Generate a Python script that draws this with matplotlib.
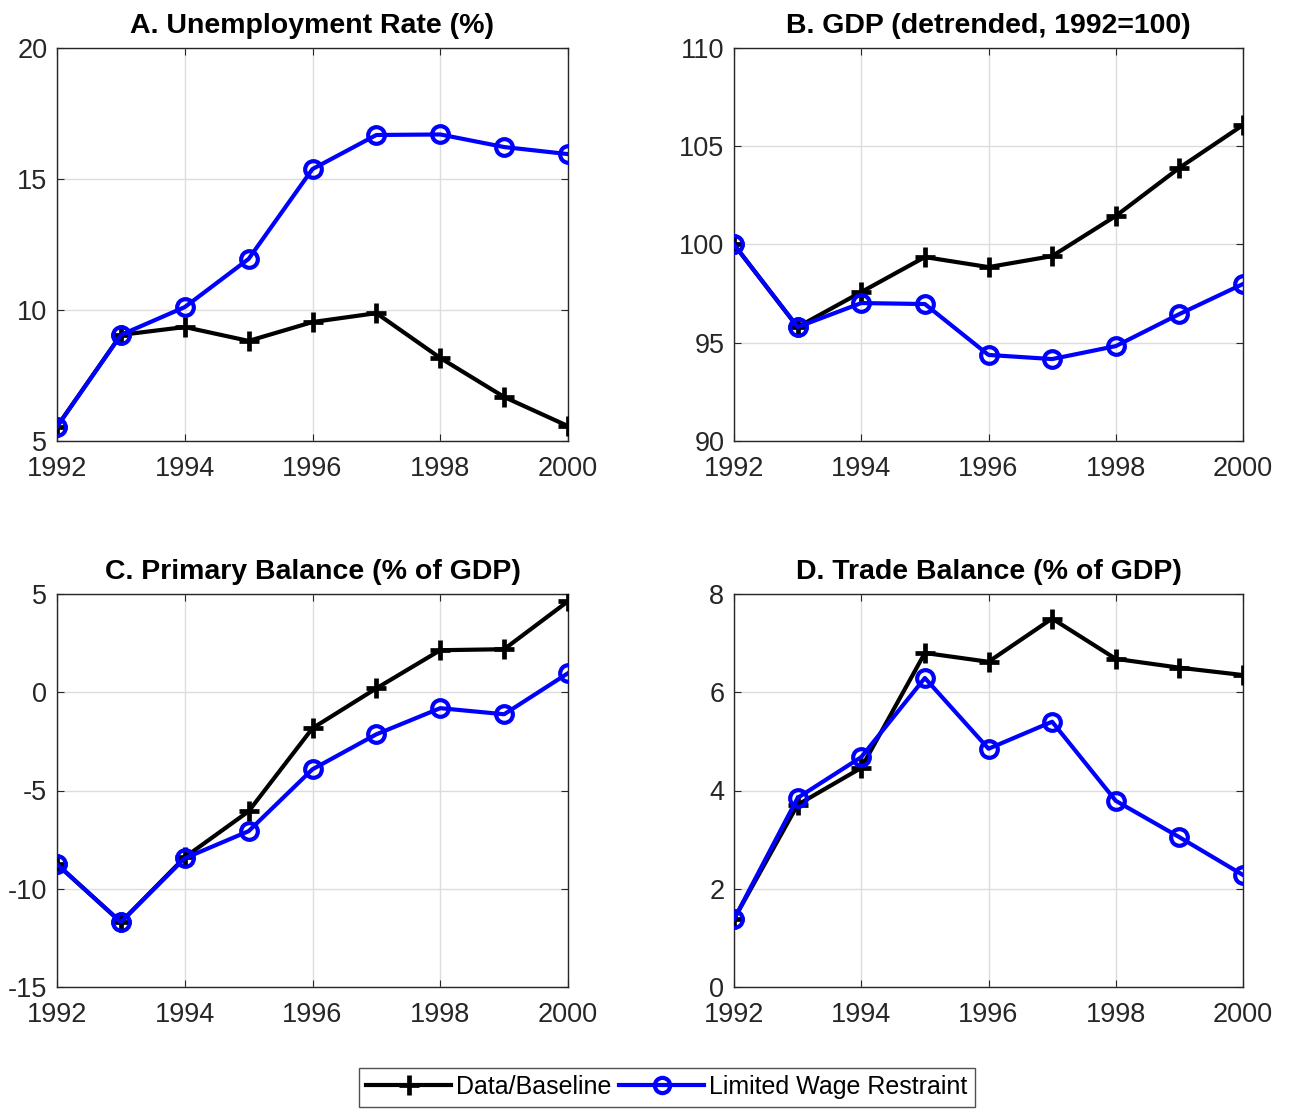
import matplotlib
matplotlib.use("Agg")
import matplotlib.pyplot as plt
from matplotlib.lines import Line2D

plt.rcParams['font.family'] = ['Liberation Sans', 'DejaVu Sans']
plt.rcParams['axes.unicode_minus'] = False

years = [1992, 1993, 1994, 1995, 1996, 1997, 1998, 1999, 2000]

unemp_base = [5.55, 9.05, 9.35, 8.82, 9.54, 9.88, 8.17, 6.68, 5.57]
unemp_lwr = [5.55, 9.05, 10.11, 11.95, 15.38, 16.68, 16.7, 16.22, 15.95]

gdp_base = [100.0, 95.8, 97.58, 99.36, 98.85, 99.41, 101.45, 103.9, 106.08]
gdp_lwr = [100.0, 95.8, 97.02, 96.97, 94.38, 94.17, 94.83, 96.46, 97.99]

pb_base = [-8.75, -11.7, -8.4, -6.06, -1.83, 0.2, 2.14, 2.19, 4.63]
pb_lwr = [-8.75, -11.7, -8.45, -7.07, -3.92, -2.14, -0.81, -1.12, 0.97]

tb_base = [1.38, 3.71, 4.46, 6.8, 6.62, 7.5, 6.68, 6.5, 6.35]
tb_lwr = [1.38, 3.85, 4.68, 6.29, 4.85, 5.4, 3.79, 3.05, 2.28]

titles = ["A. Unemployment Rate (%)", "B. GDP (detrended, 1992=100)",
          "C. Primary Balance (% of GDP)", "D. Trade Balance (% of GDP)"]
ylims = [(5, 20), (90, 110), (-15, 5), (0, 8)]
yticks = [[5, 10, 15, 20], [90, 95, 100, 105, 110], [-15, -10, -5, 0, 5], [0, 2, 4, 6, 8]]
xticks = [1992, 1994, 1996, 1998, 2000]
series = [(unemp_base, unemp_lwr), (gdp_base, gdp_lwr), (pb_base, pb_lwr), (tb_base, tb_lwr)]
legend_labels = ["Data/Baseline", "Limited Wage Restraint"]

W, H = 1289, 1111
fig = plt.figure(figsize=(W / 100, H / 100), dpi=100)

boxes = [(57, 48, 568, 441), (734, 48, 1243, 441), (57, 594, 568, 987), (734, 594, 1243, 987)]
axcol = '#262626'
for i, (x0, y0, x1, y1) in enumerate(boxes):
    ax = fig.add_axes([x0 / W, 1 - y1 / H, (x1 - x0) / W, (y1 - y0) / H])
    base, lwr = series[i]
    ax.plot(years, base, color='black', lw=3, marker='+', ms=14, mew=3.4, zorder=3)
    ax.plot(years, lwr, color='#0000ff', lw=3, marker='o', ms=12, mew=3, mfc='none', zorder=4)
    ax.set_xlim(1992, 2000)
    ax.set_ylim(*ylims[i])
    ax.set_xticks(xticks)
    ax.set_yticks(yticks[i])
    ax.grid(True, color='#dcdcdc', lw=1.0)
    ax.set_axisbelow(True)
    for s in ax.spines.values():
        s.set_color(axcol)
        s.set_linewidth(1.0)
    ax.tick_params(direction='in', length=5, width=0.8, colors=axcol, labelsize=19.5,
                   top=True, right=True)
    ax.tick_params(axis='x', pad=11)
    ax.tick_params(axis='y', pad=7)
    for lab in ax.get_xticklabels() + ax.get_yticklabels():
        lab.set_color(axcol)
    ax.set_title(titles[i], fontsize=20.5, fontweight='bold', pad=11, color='black')

handles = [Line2D([], [], color='black', lw=3, marker='+', ms=14, mew=3.4),
           Line2D([], [], color='#0000ff', lw=3, marker='o', ms=11, mew=3, mfc='none')]
leg = fig.legend(handles, legend_labels, loc='center', bbox_to_anchor=(667 / W, 1 - 1087 / H),
                 ncol=2, frameon=True, fontsize=18, handlelength=3.4, handletextpad=0.2,
                 columnspacing=0.3, borderpad=0.3, fancybox=False, edgecolor=axcol)
leg.get_frame().set_linewidth(1.0)

fig.savefig("out.png", dpi=100, facecolor='white')
